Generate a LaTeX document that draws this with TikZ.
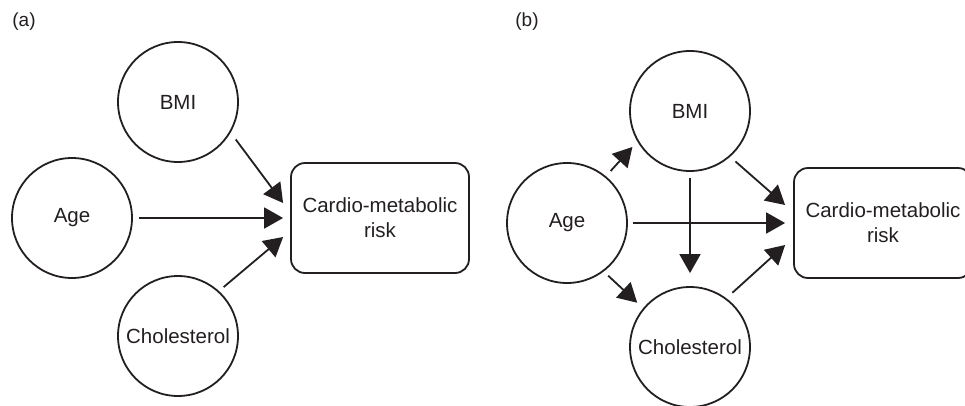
\documentclass[tikz,border=0pt]{standalone}
\usepackage{fontspec}
\setmainfont{Liberation Sans}
\usetikzlibrary{arrows.meta}
\definecolor{ink}{HTML}{231F20}
\begin{document}
\begin{tikzpicture}[x=1pt,y=-1pt,
  lbl/.style={text=ink, font=\fontsize{19}{22}\selectfont, inner sep=0pt},
  var/.style={draw=ink, line width=1.8pt, circle, minimum size=120pt, inner sep=0pt, text=ink, font=\fontsize{20.5}{25}\selectfont},
  outcome/.style={draw=ink, line width=1.8pt, rounded corners=14pt, minimum width=178pt, minimum height=110pt, align=center, inner sep=0pt, text=ink, font=\fontsize{20.5}{25}\selectfont},
  arr/.style={draw=ink, line width=1.8pt, -{Triangle[length=19pt,width=21pt]}}]
\useasboundingbox (0,0) rectangle (965,405);

% panel (a)
\node[lbl] (la) at (24,22) {(a)};
\node[var] (bmiA) at (178,102) {BMI};
\node[var] (ageA) at (72,218) {Age};
\node[var] (cholA) at (178,336) {Cholesterol};
\node[outcome] (boxA) at (380,218) {Cardio-metabolic\\risk};

\draw[arr] ([shift={(-33:8pt)}]bmiA.-33) -- ([shift={(-7pt,15pt)}]boxA.west);
\draw[arr] ([xshift=6pt]ageA.east) -- ([xshift=-7pt]boxA.west);
\draw[arr] ([shift={(47:6pt)}]cholA.47) -- ([shift={(-7pt,-19pt)}]boxA.west);

% panel (b)
\node[lbl] (lb) at (527,22) {(b)};
\node[var] (bmiB) at (690,111) {BMI};
\node[var] (ageB) at (567,223) {Age};
\node[var] (cholB) at (690,347) {Cholesterol};
\node[outcome] (boxB) at (883,223) {Cardio-metabolic\\risk};

\draw[arr] ([shift={(50:7pt)}]ageB.50) -- ([shift={(-148:7pt)}]bmiB.-148);
\draw[arr] ([shift={(-52:6pt)}]ageB.-52) -- ([shift={(140:8pt)}]cholB.140);
\draw[arr] ([yshift=-6pt]bmiB.south) -- ([yshift=13pt]cholB.north);
\draw[arr] ([shift={(-48:7pt)}]bmiB.-48) -- ([shift={(-8pt,18pt)}]boxB.west);
\draw[arr] ([xshift=5pt]ageB.east) -- ([xshift=-8pt]boxB.west);
\draw[arr] ([shift={(52:8pt)}]cholB.52) -- ([shift={(-8pt,-22pt)}]boxB.west);
\end{tikzpicture}
\end{document}
